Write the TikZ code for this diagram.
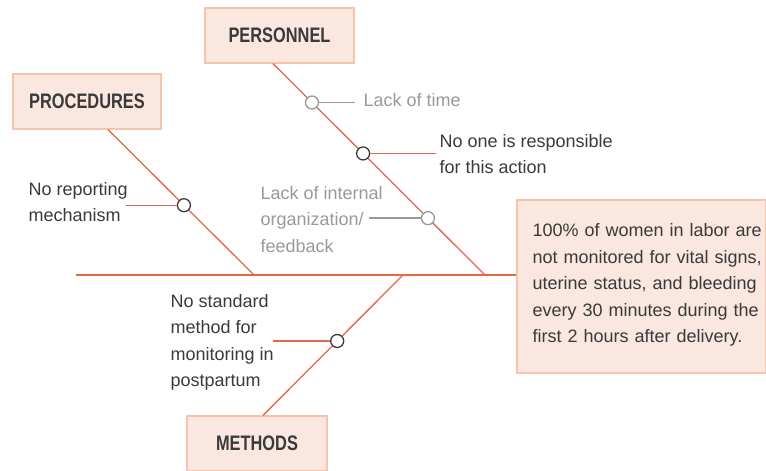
\documentclass[tikz,border=0pt]{standalone}
\usepackage{fontspec}
\setmainfont{Liberation Sans}
\newfontfamily\headfont{Liberation Sans}[FakeStretch=0.78]
\usetikzlibrary{positioning}
\definecolor{bone}{HTML}{E0694A}
\definecolor{boxfill}{HTML}{F9E7E0}
\definecolor{boxline}{HTML}{F6C4AC}
\definecolor{ink}{HTML}{3A3A3A}
\definecolor{faded}{HTML}{999999}

\begin{document}
\begin{tikzpicture}[x=1pt,y=-1pt,line width=1.3pt,
font=\fontsize{18}{26.5}\selectfont]
\tikzstyle{category}=[rectangle,fill=boxfill,draw=boxline,line width=1.2pt,text=ink,
  font=\headfont\bfseries\fontsize{21}{24}\selectfont,inner sep=0pt]
\tikzstyle{effectbox}=[rectangle,fill=boxfill,draw=boxline,line width=1.2pt,inner sep=0pt]
\tikzstyle{cause}=[circle,draw=ink,fill=white,line width=1.3pt,minimum size=13pt,inner sep=0pt]
\tikzstyle{reason}=[align=left,inner sep=0pt,text=ink,anchor=north west]

\useasboundingbox (0,0) rectangle (766,471);

% category boxes and the problem
\node[category,minimum width=149pt,minimum height=55pt] (personnel)  at (279.5,35.5) {PERSONNEL};
\node[category,minimum width=148pt,minimum height=55pt] (procedures) at (87,101.5)   {PROCEDURES};
\node[category,minimum width=140pt,minimum height=55pt] (methods)    at (257,443.5)  {METHODS};
\node[effectbox,minimum width=249pt,minimum height=173pt] (problem)  at (641.5,286.5) {};
\node[reason,text width=232pt] (problemtext) at (532,223) {100\% of women in labor are\\
not monitored for vital signs,\\ uterine status, and bleeding\\ every 30 minutes during the\\
first 2 hours after delivery.};

% spine
\coordinate (tail) at (76,275);
\coordinate (pend) at (485,275);
\coordinate (rend) at (254,275);
\coordinate (mend) at (403,275);
\draw[bone] (tail) -- (tail -| problem.west);

% bones
\draw[bone] ([xshift=-6.5pt]personnel.south) -- (pend)
  node[cause,draw=faded,pos=0.184] (lacktime) {}
  node[cause,pos=0.425] (noone) {}
  node[cause,draw=faded,pos=0.731] (internal) {};
\draw[bone] ([xshift=21pt]procedures.south) -- (rend)
  node[cause,pos=0.52] (reporting) {};
\draw[bone] ([xshift=6pt]methods.north) -- (mend)
  node[cause,pos=0.53] (standard) {};

% branches
\draw[faded] (lacktime.east) -- ++(35.5,0);
\draw[bone] (noone.east) -- ++(65.5,0);
\draw[faded] (internal.west) -- ++(-51.5,0);
\draw[bone] (reporting.west) -- ++(-51,0);
\draw[bone] (standard.west) -- ++(-57,0);

% causes
\node[reason,text=faded] (lacktimetext) at (363,92.5) {Lack of time};
\node[reason] (noonetext) at (439,133.5) {No one is responsible\\ for this action};
\node[reason,text=faded] (internaltext) at (260,185.5) {Lack of internal\\ organization/\\ feedback};
\node[reason] (reportingtext) at (28,181.5) {No reporting\\ mechanism};
\node[reason] (standardtext) at (170,293.5) {No standard\\ method for\\ monitoring in\\ postpartum};
\end{tikzpicture}
\end{document}
